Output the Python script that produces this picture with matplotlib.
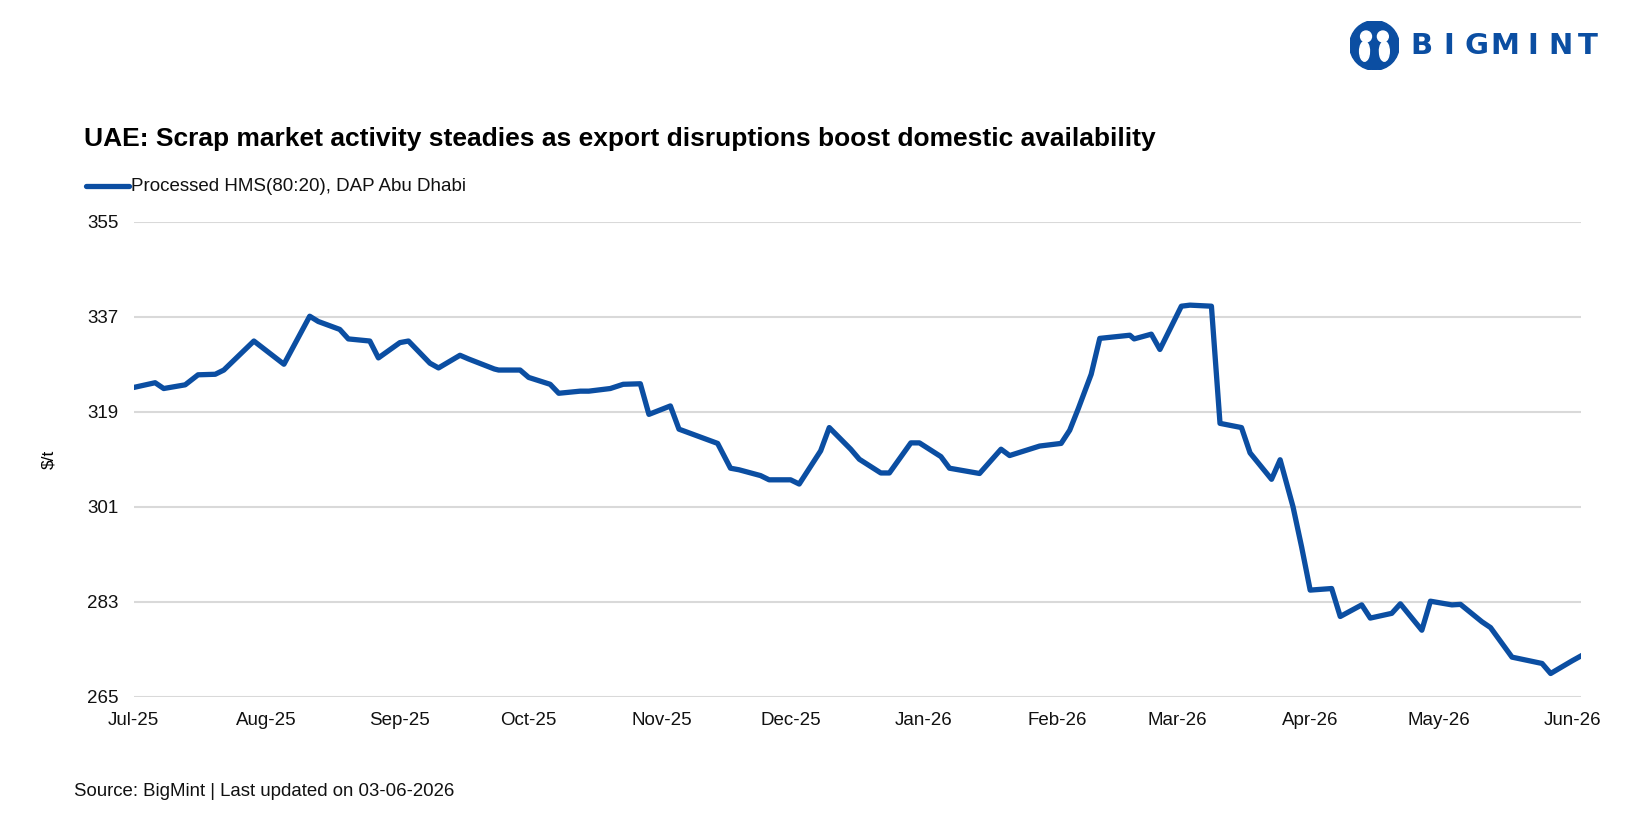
import numpy as np
import pandas as pd
import matplotlib
matplotlib.use("Agg")
import matplotlib.pyplot as plt
import matplotlib.dates as mdates
from matplotlib.patches import Circle, Ellipse

plt.rcParams["font.family"] = ["Liberation Sans", "DejaVu Sans"]

blue = "#0B4EA2"

# Weekly-ish price points
dates = [
    "2025-07-01", "2025-07-06", "2025-07-08", "2025-07-13", "2025-07-16", "2025-07-20",
    "2025-07-22", "2025-07-29", "2025-08-05", "2025-08-11", "2025-08-13", "2025-08-18",
    "2025-08-20", "2025-08-25", "2025-08-27", "2025-09-01", "2025-09-03", "2025-09-08",
    "2025-09-10", "2025-09-15", "2025-09-17", "2025-09-23", "2025-09-24", "2025-09-29",
    "2025-10-01", "2025-10-06", "2025-10-08", "2025-10-13", "2025-10-15", "2025-10-20",
    "2025-10-23", "2025-10-27", "2025-10-29", "2025-11-03", "2025-11-05", "2025-11-14",
    "2025-11-17", "2025-11-19", "2025-11-24", "2025-11-26", "2025-12-01", "2025-12-03",
    "2025-12-08", "2025-12-10", "2025-12-15", "2025-12-17", "2025-12-22", "2025-12-24",
    "2025-12-29", "2025-12-31", "2026-01-05", "2026-01-07", "2026-01-14", "2026-01-19",
    "2026-01-21", "2026-01-28", "2026-02-02", "2026-02-04", "2026-02-06", "2026-02-09",
    "2026-02-11", "2026-02-18", "2026-02-19", "2026-02-23", "2026-02-25", "2026-03-02",
    "2026-03-04", "2026-03-09", "2026-03-11", "2026-03-16", "2026-03-18", "2026-03-23",
    "2026-03-25", "2026-03-28", "2026-03-30", "2026-04-01", "2026-04-06", "2026-04-08",
    "2026-04-13", "2026-04-15", "2026-04-20", "2026-04-22", "2026-04-27", "2026-04-29",
    "2026-05-04", "2026-05-06", "2026-05-11", "2026-05-13", "2026-05-18", "2026-05-25",
    "2026-05-27", "2026-06-01", "2026-06-03",
]
prices = [
    323.6, 324.5, 323.4, 324.1, 326.0, 326.1,
    326.9, 332.4, 328.0, 337.1, 336.1, 334.6,
    332.8, 332.4, 329.2, 332.1, 332.4, 328.2,
    327.3, 329.7, 329.0, 327.1, 326.9, 326.9,
    325.5, 324.2, 322.5, 322.9, 322.9, 323.4,
    324.2, 324.3, 318.5, 320.1, 315.7, 313.0,
    308.3, 308.0, 306.9, 306.1, 306.1, 305.3,
    311.6, 316.0, 311.9, 310.0, 307.4, 307.4,
    313.1, 313.1, 310.5, 308.3, 307.3, 311.9,
    310.7, 312.5, 313.0, 315.5, 319.6, 326.1,
    332.9, 333.5, 332.8, 333.7, 330.8, 339.0,
    339.2, 339.0, 316.8, 316.0, 311.2, 306.2,
    309.9, 301.0, 293.4, 285.2, 285.5, 280.2,
    282.4, 279.9, 280.8, 282.6, 277.6, 283.1,
    282.4, 282.5, 279.2, 278.1, 272.5, 271.3,
    269.4, 271.8, 272.7,
]
y_ticks = [265, 283, 301, 319, 337, 355]
series_name = "Processed HMS(80:20), DAP Abu Dhabi"
title = "UAE: Scrap market activity steadies as export disruptions boost domestic availability"
source = "Source: BigMint | Last updated on 03-06-2026"

x = pd.to_datetime(dates)

fig = plt.figure(figsize=(16.5, 8.25), dpi=100)
ax = fig.add_axes([0.081, 0.1555, 0.877, 0.5757])

ax.plot(x, prices, color=blue, linewidth=3.8, solid_joinstyle="round")

ax.set_ylim(265, 355)
ax.set_yticks(y_ticks)
ax.set_xlim(pd.Timestamp("2025-07-01"), pd.Timestamp("2026-06-03"))
ax.xaxis.set_major_locator(mdates.MonthLocator())
ax.xaxis.set_major_formatter(mdates.DateFormatter("%b-%y"))
ax.grid(axis="y", color="#d9d9d9", linewidth=1.5)
ax.set_axisbelow(True)
for s in ax.spines.values():
    s.set_visible(False)
ax.tick_params(axis="both", length=0, labelsize=13.5, colors="#111111")
ax.tick_params(axis="y", pad=11)
ax.tick_params(axis="x", pad=11)
ax.set_ylabel("$/t", fontsize=12.5, labelpad=22)

# Title, legend and source
fig.text(0.051, 0.831, title, fontsize=19, fontweight="bold", va="center", color="#000000")
fig.add_artist(plt.Line2D([0.052, 0.078], [0.774, 0.774], color=blue, linewidth=3.8,
                          solid_capstyle="round"))
fig.text(0.0795, 0.774, series_name, fontsize=13.5, va="center", color="#111111")
fig.text(0.045, 0.041, source, fontsize=13.4, va="center", color="#111111")

# Logo
logo = fig.add_axes([0.818, 0.915, 0.03, 0.06])
logo.set_xlim(0, 1)
logo.set_ylim(0, 1)
logo.set_aspect("equal")
logo.axis("off")
logo.add_patch(Circle((0.5, 0.5), 0.5, color=blue))
logo.add_patch(Circle((0.33, 0.68), 0.11, color="white"))
logo.add_patch(Circle((0.67, 0.68), 0.11, color="white"))
logo.add_patch(Ellipse((0.3, 0.38), 0.2, 0.4, color="white"))
logo.add_patch(Ellipse((0.7, 0.38), 0.2, 0.4, color="white"))
logo.add_patch(Ellipse((0.5, 0.3), 0.14, 0.4, color=blue))
for i, ch in enumerate("BIGMINT"):
    fig.text(0.8615 + i * 0.0168, 0.944, ch, fontsize=21, fontweight="heavy",
             family="DejaVu Sans", color=blue, va="center", ha="center")

fig.savefig("out.png", dpi=100)
